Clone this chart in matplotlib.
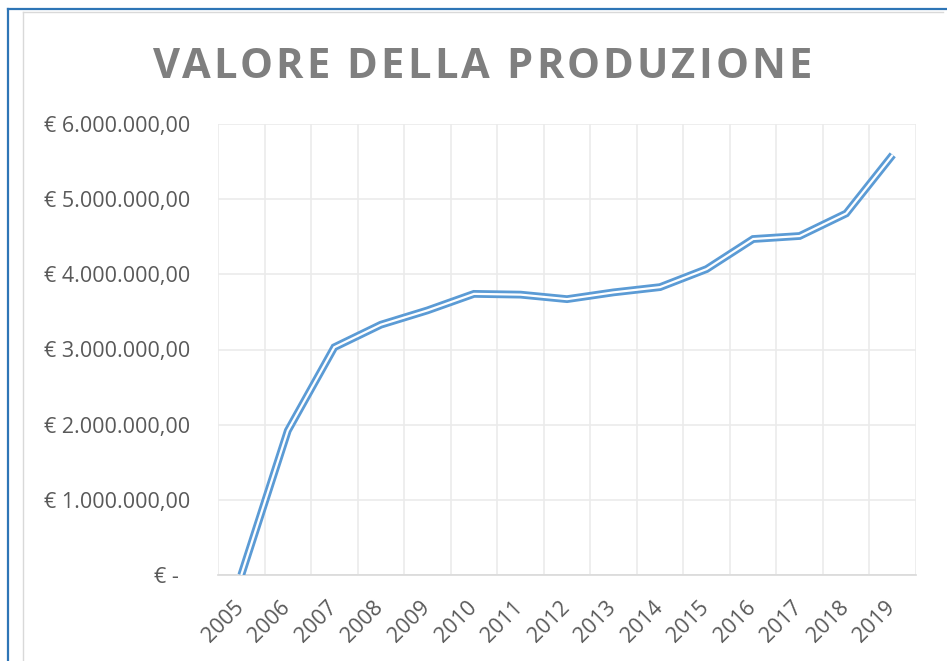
import matplotlib.pyplot as plt
import numpy as np
from matplotlib.lines import Line2D
from matplotlib.ticker import FuncFormatter, FixedLocator
from matplotlib.transforms import ScaledTranslation

plt.rcParams['font.family'] = ['Open Sans', 'DejaVu Sans']

# data
anni = [str(a) for a in range(2005, 2020)]
valore = [0, 1.92e6, 3.03e6, 3.33e6, 3.52e6, 3.74e6, 3.73e6, 3.67e6,
          3.76e6, 3.83e6, 4.07e6, 4.47e6, 4.51e6, 4.81e6, 5.59e6]
y_ticks = [0, 1e6, 2e6, 3e6, 4e6, 5e6, 6e6]
titolo = "VALORE DELLA PRODUZIONE"

W, H = 947, 661
fig = plt.figure(figsize=(W / 100, H / 100), dpi=100)
ax = fig.add_axes([218 / W, 1 - 575 / H, (916 - 218) / W, (575 - 124) / H])

x = np.arange(len(anni))
# double (compound) line like excel
ax.plot(x, valore, color='#5B9BD5', lw=5.6, solid_joinstyle='miter',
        solid_capstyle='butt', zorder=3)
ax.plot(x, valore, color='white', lw=1.6, solid_joinstyle='miter',
        solid_capstyle='butt', zorder=4)

ax.set_xlim(-0.5, len(anni) - 0.5)
ax.set_ylim(0, 6e6)


def euro(v, pos):
    if v == 0:
        return '€ -  '
    s = format(v, ',.2f')
    s = s.replace(',', 'X').replace('.', ',').replace('X', '.')
    return '€ ' + s


ax.yaxis.set_major_locator(FixedLocator(y_ticks))
ax.yaxis.set_major_formatter(FuncFormatter(euro))
ax.set_xticks(x)
ax.set_xticklabels(anni, rotation=45, ha='right')
ax.set_xticks(np.arange(len(anni) + 1) - 0.5, minor=True)

ax.grid(axis='y', which='major', color='#EBEBEB', lw=1.2)
ax.grid(axis='x', which='minor', color='#EBEBEB', lw=1.2)
ax.set_axisbelow(True)
for s in ['top', 'right', 'left']:
    ax.spines[s].set_visible(False)
ax.spines['bottom'].set_color('#D9D9D9')
ax.spines['bottom'].set_linewidth(1.2)

ax.tick_params(axis='both', which='both', length=0, colors='#595959',
               labelsize=15.5)
ax.tick_params(axis='y', pad=20)
ax.tick_params(axis='x', pad=16)
off = ScaledTranslation(5 / 72, 0, fig.dpi_scale_trans)
for lab in ax.get_xticklabels():
    lab.set_transform(lab.get_transform() + off)

# title with letter spacing
renderer = fig.canvas.get_renderer()


def larghezza(s):
    if not s:
        return 0.0
    t = fig.text(0, 0, s, fontsize=30, fontweight='bold')
    w = t.get_window_extent(renderer).width
    t.remove()
    return w


x0, x1 = 153, 812
nat = larghezza(titolo)
track = (x1 - x0 - nat) / (len(titolo) - 1)
for i, ch in enumerate(titolo):
    if ch == ' ':
        continue
    left = larghezza(titolo[:i + 1]) - larghezza(ch)
    fig.text((x0 + left + i * track) / W, 1 - 78 / H, ch, fontsize=30,
             fontweight='bold', color='#7F7F7F', ha='left', va='baseline')

# chart frame
fig.add_artist(Line2D([8 / W, 8 / W], [0, 1 - 9 / H], transform=fig.transFigure,
                      color='#2E75B6', lw=1.6))
fig.add_artist(Line2D([8 / W, 1], [1 - 9 / H, 1 - 9 / H], transform=fig.transFigure,
                      color='#2E75B6', lw=1.6))
fig.add_artist(Line2D([23 / W, 23 / W], [0, 1 - 12 / H], transform=fig.transFigure,
                      color='#D9D9D9', lw=1.0))
fig.add_artist(Line2D([23 / W, 943 / W], [1 - 12 / H, 1 - 12 / H],
                      transform=fig.transFigure, color='#D9D9D9', lw=1.0))

fig.savefig('out.png', dpi=100)
